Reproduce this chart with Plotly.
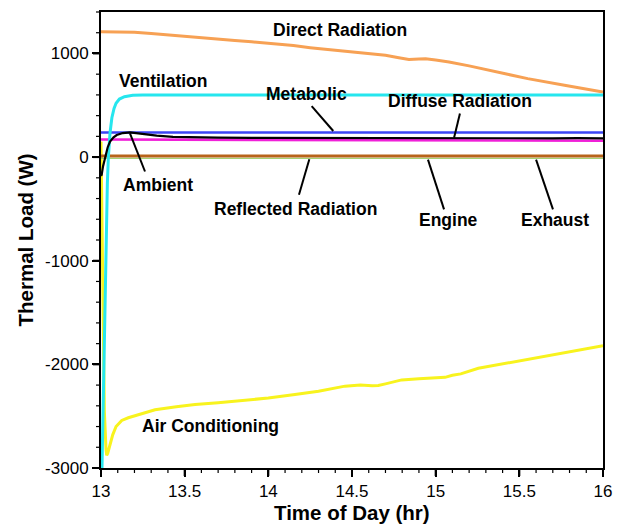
import plotly.graph_objects as go

# ---- data: thermal loads (W) vs time of day (hr) ----
t_direct = [13.0, 13.1, 13.2, 13.3, 13.4, 13.5, 13.56, 13.7, 13.8, 13.9, 14.04, 14.15,
            14.25, 14.36, 14.45, 14.55, 14.64, 14.7, 14.78, 14.84, 14.9, 14.94, 15.0,
            15.08, 15.2, 15.31, 15.43, 15.55, 15.65, 15.77, 15.88, 16.0]
q_direct = [1209, 1207, 1204, 1192, 1180, 1166, 1158, 1142, 1126, 1112, 1093, 1076,
            1056, 1039, 1025, 1008, 995, 982, 958, 942, 946, 948, 936,
            918, 880, 838, 799, 757, 731, 693, 662, 627]

t_vent = [13.006, 13.018, 13.026, 13.032, 13.038, 13.044, 13.054, 13.065, 13.078,
          13.09, 13.11, 13.14, 13.19, 13.25, 16.0]
q_vent = [-3000, -2000, -1000, -600, -250, 0, 235, 380, 470,
          520, 560, 583, 597, 600, 600]

t_metab = [13.0, 16.0]
q_metab = [238, 238]

t_diffuse = [13.0, 14.0, 15.0, 16.0]
q_diffuse = [170, 166, 162, 158]

t_amb = [13.0, 13.004, 13.012, 13.024, 13.04, 13.054, 13.075, 13.094, 13.13, 13.173,
         13.21, 13.253, 13.3, 13.333, 13.43, 13.532, 13.7, 13.9, 14.1, 14.3, 14.5,
         14.7, 14.9, 15.1, 15.3, 15.5, 15.7, 15.85, 16.0]
q_amb = [-180, -171, -90, -12, 95, 149, 190, 213, 232, 238,
         230, 219, 212, 207, 196, 190, 187, 186, 185, 187, 184,
         185, 183, 184, 182, 183, 181, 183, 180]

t_refl = [13.0, 16.0]
q_refl = [10, 10]

t_engine = [13.0, 16.0]
q_engine = [-12, -12]

t_ac = [13.0, 13.005, 13.01, 13.02, 13.03, 13.034, 13.04, 13.05, 13.07, 13.09,
        13.11, 13.124, 13.163, 13.25, 13.323, 13.45, 13.562, 13.7, 13.861, 14.0,
        14.159, 14.3, 14.458, 14.55, 14.62, 14.657, 14.7, 14.797, 14.9, 15.056,
        15.1, 15.15, 15.255, 15.35, 15.454, 15.6, 15.713, 15.85, 16.0]
q_ac = [150, -600, -1500, -2450, -2820, -2877, -2860, -2790, -2680, -2600,
        -2560, -2541, -2515, -2470, -2438, -2410, -2387, -2370, -2349, -2325,
        -2291, -2260, -2210, -2200, -2206, -2204, -2188, -2150, -2140, -2125,
        -2105, -2092, -2038, -2010, -1981, -1935, -1900, -1865, -1820]

x_ticks = [13, 13.5, 14, 14.5, 15, 15.5, 16]
x_ticklabels = ["13", "13.5", "14", "14.5", "15", "15.5", "16"]
y_ticks = [-3000, -2000, -1000, 0, 1000]
y_ticklabels = ["-3000", "-2000", "-1000", "0", "1000"]
x_minor_step = 0.1
y_minor_step = 200

X_RANGE = [13, 16]
Y_RANGE = [-3000, 1400]

W, H = 624, 527
MARGIN = dict(l=101, r=21, t=10, b=59)
PLOT_W = W - MARGIN["l"] - MARGIN["r"]
PLOT_H = H - MARGIN["t"] - MARGIN["b"]

FONT = "Liberation Sans, Arial, Helvetica, sans-serif"

series = [
    ("Air Conditioning", t_ac, q_ac, "#F8F31E", 3),
    ("Direct Radiation", t_direct, q_direct, "#F7A154", 3),
    ("Engine", t_engine, q_engine, "#93C85A", 1),
    ("Reflected Radiation", t_refl, q_refl, "#B8641A", 3),
    ("Diffuse Radiation", t_diffuse, q_diffuse, "#F020D8", 2.6),
    ("Metabolic", t_metab, q_metab, "#3B45F5", 2.6),
    ("Ventilation", t_vent, q_vent, "#26E6EE", 3),
    ("Ambient", t_amb, q_amb, "#000000", 2.2),
]

fig = go.Figure()
for name, t, q, color, w in series:
    fig.add_trace(go.Scatter(x=t, y=q, mode="lines", name=name,
                             line=dict(color=color, width=w), showlegend=False))

# curve labels (center positions in data units)
labels = [
    ("Direct Radiation", 14.428, 1222),
    ("Ventilation", 13.371, 738),
    ("Metabolic", 14.228, 606),
    ("Diffuse Radiation", 15.145, 545),
    ("Ambient", 13.341, -272),
    ("Reflected Radiation", 14.165, -497),
    ("Engine", 15.074, -608),
    ("Exhaust", 15.716, -608),
    ("Air Conditioning", 13.657, -2596),
]
annotations = [
    dict(text=txt, x=x, y=y, xref="x", yref="y", showarrow=False,
         xanchor="center", yanchor="middle",
         font=dict(family=FONT, size=17.5, color="black", weight="bold"))
    for txt, x, y in labels
]

# axis titles
annotations.append(dict(text="Time of Day (hr)", x=0.5, y=-0.098, xref="paper", yref="paper",
                        showarrow=False, xanchor="center", yanchor="middle",
                        font=dict(family=FONT, size=20.5, color="black", weight="bold")))
annotations.append(dict(text="Thermal Load (W)", x=-0.1504, y=0.5, xref="paper", yref="paper",
                        showarrow=False, xanchor="center", yanchor="middle", textangle=-90,
                        font=dict(family=FONT, size=20.5, color="black", weight="bold")))

# leader lines from labels to curves
leaders = [
    (14.259, 492, 14.388, 252),
    (15.145, 421, 15.110, 187),
    (13.173, 229, 13.263, -139),
    (14.245, -21, 14.183, -363),
    (14.954, -24, 15.050, -504),
    (15.600, -24, 15.701, -504),
]
shapes = [
    dict(type="line", xref="x", yref="y", x0=x0, y0=y0, x1=x1, y1=y1,
         line=dict(color="black", width=2))
    for x0, y0, x1, y1 in leaders
]

def x_frac(v):
    return (v - X_RANGE[0]) / (X_RANGE[1] - X_RANGE[0])

def y_frac(v):
    return (v - Y_RANGE[0]) / (Y_RANGE[1] - Y_RANGE[0])

LINE_W = 2
MAJOR_LEN, MINOR_LEN = 7, 4

# outside tick marks on the bottom edge (major + minor)
n_xminor = int(round((X_RANGE[1] - X_RANGE[0]) / x_minor_step))
for i in range(n_xminor + 1):
    v = X_RANGE[0] + i * x_minor_step
    is_major = any(abs(v - m) < 1e-9 for m in x_ticks)
    length = MAJOR_LEN if is_major else MINOR_LEN
    shapes.append(dict(type="line", xref="paper", yref="paper", layer="above",
                       x0=x_frac(v), x1=x_frac(v),
                       y0=0, y1=-(LINE_W / 2 + length) / PLOT_H,
                       line=dict(color="black", width=2 if is_major else 1.2)))

# outside tick marks on the left edge (major + minor)
n_yminor = int(round((Y_RANGE[1] - Y_RANGE[0]) / y_minor_step))
for i in range(n_yminor + 1):
    v = Y_RANGE[0] + i * y_minor_step
    is_major = any(abs(v - m) < 1e-9 for m in y_ticks)
    length = MAJOR_LEN if is_major else MINOR_LEN
    shapes.append(dict(type="line", xref="paper", yref="paper", layer="above",
                       y0=y_frac(v), y1=y_frac(v),
                       x0=0, x1=-(LINE_W / 2 + length) / PLOT_W,
                       line=dict(color="black", width=2 if is_major else 1.2)))

axis_common = dict(
    showline=True, linecolor="black", linewidth=LINE_W, mirror=True,
    ticks="outside", ticklen=MAJOR_LEN, tickwidth=2, tickcolor="black",
    showgrid=False, zeroline=False, tickmode="array",
    tickfont=dict(family=FONT, size=17, color="black"),
)

fig.update_layout(
    width=W, height=H,
    margin=MARGIN,
    plot_bgcolor="white", paper_bgcolor="white",
    annotations=annotations, shapes=shapes,
    xaxis=dict(range=X_RANGE, tickvals=x_ticks, ticktext=x_ticklabels, **axis_common),
    yaxis=dict(range=Y_RANGE, tickvals=y_ticks, ticktext=y_ticklabels, **axis_common),
)

fig.write_html("out.html")
